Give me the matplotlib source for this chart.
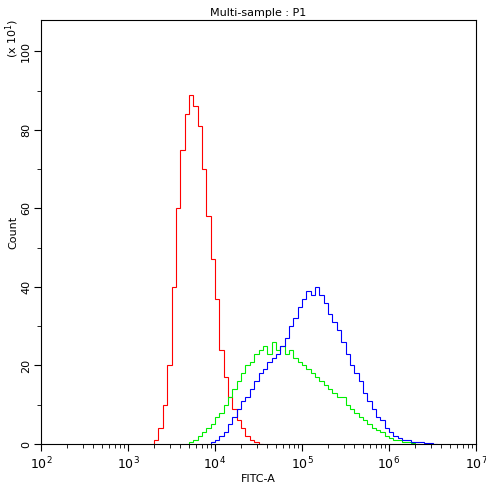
import numpy as np
import matplotlib.pyplot as plt
from matplotlib.ticker import LogLocator, MultipleLocator, NullFormatter

# histogram bins: log10 of FITC-A, 0.05-decade wide, counts in units of 10^1
red_start = 3.30
red_counts = [1, 4, 10, 20, 40, 60, 75, 84, 89, 86, 81, 70, 58, 47, 37, 24, 17, 12, 9, 6, 4, 2, 1, 0.5, 0]

green_start = 3.70
green_counts = [0.5, 1, 2, 3, 4, 5, 7, 8, 10, 12, 14, 16, 18, 20, 21, 23, 24, 25, 23, 26, 24, 25, 23, 24, 22,
                21, 20, 19, 18, 17, 16, 15, 14, 13, 12, 12, 10, 9, 8, 7, 6, 5, 4, 3.5, 3, 2, 1.5, 1, 1, 0.5, 0.5, 0.3, 0]

blue_start = 3.95
blue_counts = [0.5, 1, 2, 3, 5, 7, 9, 11, 12, 14, 16, 18, 19, 21, 22, 23, 25, 27, 30, 32, 35, 37, 39, 38, 40,
               38, 36, 33, 31, 29, 26, 23, 20, 18, 16, 13, 11, 9, 7, 6, 4, 3, 2, 1.5, 1, 1, 0.5, 0.5, 0.5, 0.3, 0.3, 0]

fig = plt.figure(figsize=(4.86, 4.83), dpi=100)
ax = fig.add_axes([41 / 486, 1 - 444 / 483, 435 / 486, 424 / 483])

def draw(start, counts, color):
    edges = 10 ** (start + 0.05 * np.arange(len(counts) + 1))
    ax.stairs(counts, edges, color=color, lw=0.8)

draw(red_start, red_counts, '#ff0000')
draw(green_start, green_counts, '#00ee00')
draw(blue_start, blue_counts, '#0000ff')

ax.set_xscale('log')
ax.set_xlim(1e2, 1e7)
ax.set_ylim(0, 108)
ax.xaxis.set_major_locator(LogLocator(base=10, numticks=10))
ax.xaxis.set_minor_locator(LogLocator(base=10, subs=np.arange(2, 10), numticks=100))
ax.xaxis.set_minor_formatter(NullFormatter())
ax.yaxis.set_major_locator(MultipleLocator(20))
ax.yaxis.set_minor_locator(MultipleLocator(10))
for lab in ax.get_yticklabels():
    lab.set_rotation(90)
    lab.set_va('center')
ax.tick_params(labelsize=9)
ax.tick_params(axis='y', labelsize=8, pad=2)
ax.tick_params(which='major', length=5)
ax.tick_params(which='minor', length=3)
ax.set_xlabel('FITC-A', fontsize=8, labelpad=1)
ax.set_ylabel('Count', fontsize=8, labelpad=2)
ax.set_title('Multi-sample : P1', fontsize=8, pad=3)
fig.text(3 / 486, 1 - 38 / 483, r'(x 10$^1$)', rotation=90, fontsize=8, ha='left', va='center')

fig.savefig('out.png')
